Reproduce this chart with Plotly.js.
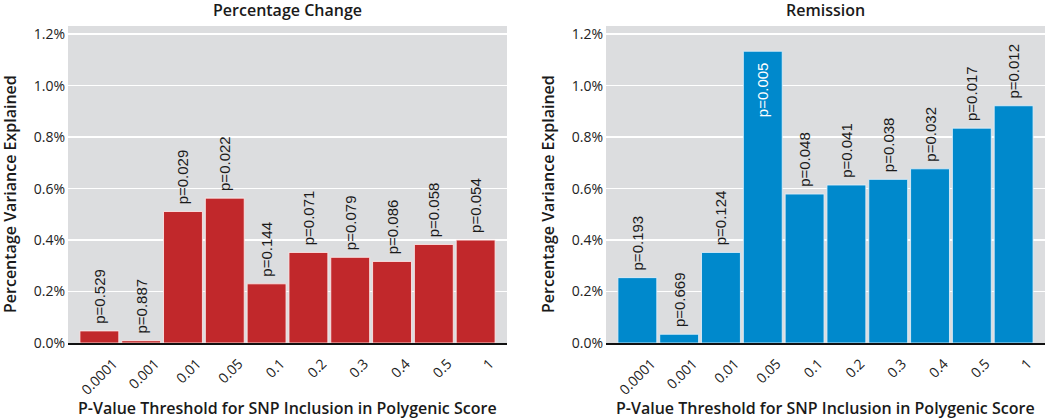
<!DOCTYPE html>
<html>
<head>
<meta charset="utf-8">
<script src="https://cdn.plot.ly/plotly-3.0.1.min.js"></script>
<style>html,body{margin:0;padding:0;background:#fff;}#chart{width:1050px;height:418px;}</style>
</head>
<body>
<div id="chart"></div>
<script>
// Data
const thresholds = ["0.0001", "0.001", "0.01", "0.05", "0.1", "0.2", "0.3", "0.4", "0.5", "1"];
const pctChangeValues = [0.047, 0.009, 0.511, 0.563, 0.230, 0.352, 0.333, 0.317, 0.383, 0.400];
const pctChangeP = ["0.529", "0.887", "0.029", "0.022", "0.144", "0.071", "0.079", "0.086", "0.058", "0.054"];
const remissionValues = [0.254, 0.034, 0.352, 1.134, 0.579, 0.614, 0.636, 0.677, 0.835, 0.922];
const remissionP = ["0.193", "0.669", "0.124", "0.005", "0.048", "0.041", "0.038", "0.032", "0.017", "0.012"];
const yTickVals = [0, 0.2, 0.4, 0.6, 0.8, 1.0, 1.2];
const yTickText = ["0.0%", "0.2%", "0.4%", "0.6%", "0.8%", "1.0%", "1.2%"];
const panelTitles = ["Percentage Change", "Remission"];
const xTitle = "P-Value Threshold for SNP Inclusion in Polygenic Score";
const yTitle = "Percentage Variance Explained";

const RED = "#c1282b";
const BLUE = "#0089cc";
const barFont = {family: "Liberation Sans, Arial, sans-serif", size: 15, color: "#1a1a1a"};
const NB = "\u00a0";

function isInside(v) { return v > 1.0; }
function labels(values, ps) {
  // outside labels sit a little above the bar; the inside one a little below the bar top
  return values.map((v, i) => isInside(v) ? "p=" + ps[i] + NB + NB : NB + "p=" + ps[i]);
}

function barTrace(values, ps, color, lineColor, xa, ya) {
  return {
    type: "bar", x: thresholds, y: values, xaxis: xa, yaxis: ya,
    marker: {color: color, line: {color: lineColor, width: 1}},
    text: labels(values, ps),
    textposition: values.map(v => isInside(v) ? "inside" : "outside"),
    insidetextanchor: "end",
    textangle: -90,
    textfont: Object.assign({}, barFont, {color: values.map(v => isInside(v) ? "#ffffff" : "#1a1a1a")}),
    constraintext: "none", cliponaxis: false, hoverinfo: "none"
  };
}

const trace1 = barTrace(pctChangeValues, pctChangeP, RED, "rgba(255,235,235,0.85)", "x", "y");
const trace2 = barTrace(remissionValues, remissionP, BLUE, "rgba(225,240,250,0.85)", "x2", "y2");

const W = 1050, H = 418;
const d1 = [68 / W, 507 / W];
const d2 = [606 / W, 1045 / W];

function xaxis(domain, anchor) {
  return {
    domain: domain, anchor: anchor, type: "category",
    range: [-0.75, 9.75],
    tickangle: -45,
    ticklabelstandoff: 5,
    ticklabelshift: 14,
    tickfont: {family: "Open Sans, sans-serif", size: 14, color: "#222"},
    showline: true, linecolor: "#111", linewidth: 2,
    showgrid: false, zeroline: false, ticks: "", fixedrange: true
  };
}
function yaxis(anchor) {
  return {
    domain: [0, 1], anchor: anchor,
    range: [0, 1.232],
    tickvals: yTickVals, ticktext: yTickText,
    ticklabelstandoff: 2,
    tickfont: {family: "Open Sans, sans-serif", size: 14, color: "#222"},
    showgrid: true, gridcolor: "#ffffff", gridwidth: 1.5,
    zeroline: false, showline: false, ticks: "", fixedrange: true
  };
}

const titleFont = {family: "Open Sans, sans-serif", size: 16, color: "#1a1a1a", weight: 600};
const annotations = [];
[d1, d2].forEach((d, i) => {
  const cx = (d[0] + d[1]) / 2;
  annotations.push({text: panelTitles[i], xref: "paper", yref: "paper", x: cx, y: 1, yshift: 16,
    xanchor: "center", yanchor: "middle", showarrow: false, font: titleFont});
  annotations.push({text: xTitle, xref: "paper", yref: "paper", x: cx, y: 0, yshift: -65,
    xanchor: "center", yanchor: "middle", showarrow: false, font: titleFont});
  annotations.push({text: yTitle, xref: "paper", yref: "paper", x: d[0], xshift: -58, y: 0.47,
    xanchor: "center", yanchor: "middle", textangle: -90, showarrow: false, font: titleFont});
});

const layout = {
  width: W, height: H,
  margin: {l: 0, r: 0, t: 26, b: 75, pad: 0},
  paper_bgcolor: "#ffffff",
  plot_bgcolor: "#dcdddf",
  showlegend: false,
  bargap: 0.07,
  xaxis: xaxis(d1, "y"),
  yaxis: yaxis("x"),
  xaxis2: xaxis(d2, "y2"),
  yaxis2: yaxis("x2"),
  annotations: annotations
};
Plotly.newPlot("chart", [trace1, trace2], layout, {staticPlot: true, displayModeBar: false});
</script>
</body>
</html>
